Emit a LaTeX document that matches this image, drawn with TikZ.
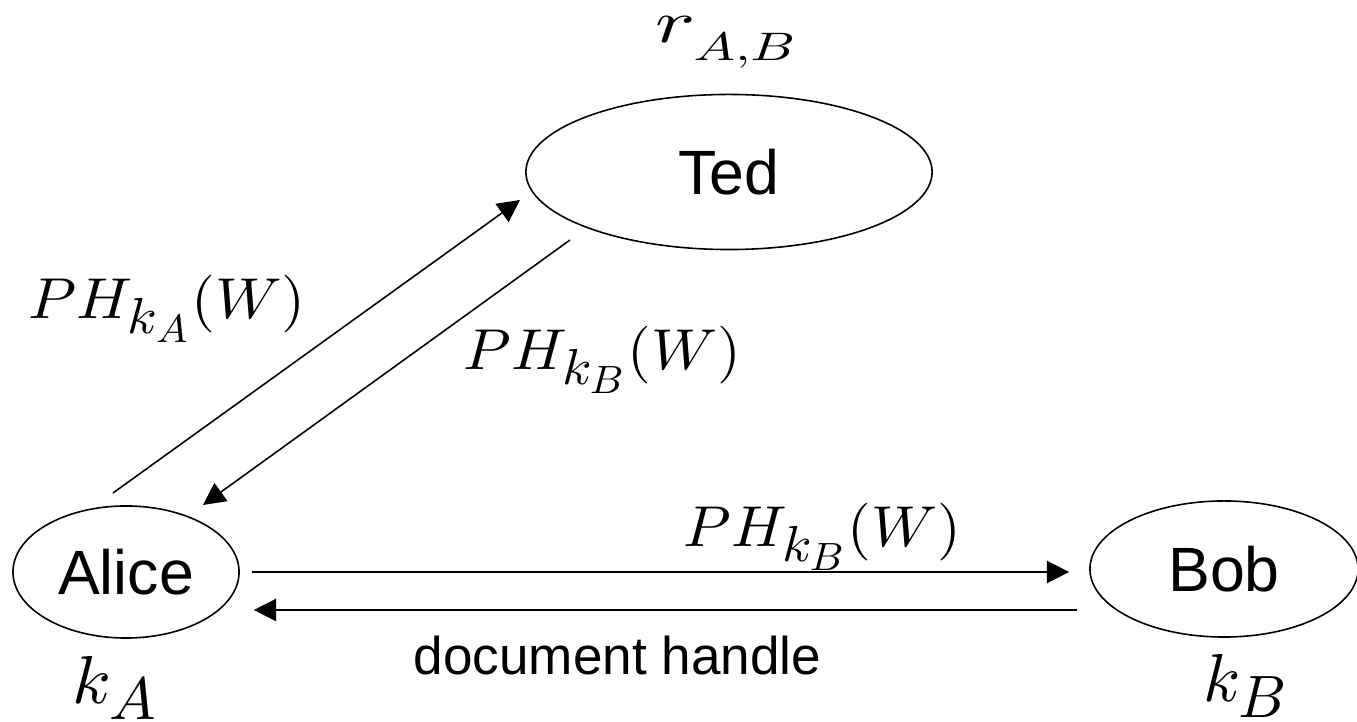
\documentclass[tikz,border=0pt]{standalone}
\usepackage{fontspec}
\usepackage{graphicx}
\setsansfont{Liberation Sans}
\usetikzlibrary{shapes.geometric,arrows.meta,calc}
\DeclareFontShape{OML}{cmm}{m}{it}{<->cmmi10}{}
\DeclareFontShape{OT1}{cmr}{m}{n}{<->cmr10}{}
\DeclareMathSizes{16.4}{16.4}{14.4}{11.2}
\DeclareMathSizes{17.1}{17.1}{11.3}{8}
\DeclareMathSizes{19.3}{19.3}{17}{12}
\newcommand{\phm}[1]{{\fontsize{16.4}{19}\selectfont\resizebox{2.77cm}{\height}{$#1$}}}
\newcommand{\rabm}[1]{{\fontsize{17.1}{20}\selectfont\resizebox{1.42cm}{\height}{$#1$}}}
\newcommand{\keym}[1]{{\fontsize{19.3}{22}\selectfont\resizebox{0.85cm}{\height}{$#1$}}}
\begin{document}
\begin{tikzpicture}[x=0.01cm,y=-0.01cm,
  party/.style={ellipse,draw,line width=0.45pt,inner sep=0pt,font=\sffamily\fontsize{17.8}{20}\selectfont},
  lbl/.style={inner sep=0pt,anchor=base west},
  txt/.style={inner sep=0pt,anchor=base west,font=\sffamily\fontsize{15.1}{18}\selectfont},
  arr/.style={line width=0.45pt,-{Triangle[length=6.3pt,width=6.3pt]}}]
\useasboundingbox (0,0) rectangle (1357,722);
% parties
\node[party,minimum width=4.06cm,minimum height=1.55cm] (ted) at (729,172) {Ted};
\node[party,minimum width=2.26cm,minimum height=1.32cm] (alice) at (126,572) {Alice};
\node[party,minimum width=2.68cm,minimum height=1.36cm] (bob) at (1224,569) {Bob};
% keys
\node[lbl] (rab) at (655,43) {\rabm{r_{\lower2.3pt\hbox{$\scriptstyle A,B$}}}};
\node[lbl] (ka) at (72,704) {\keym{k_A}};
\node[lbl] (kb) at (1203,702) {\keym{k_B}};
% connector end points
\coordinate (a1) at ($(alice.center)+(-13,-79)$);
\coordinate (t1) at ($(ted.center)+(-209,28)$);
\coordinate (t2) at ($(ted.center)+(-159,68)$);
\coordinate (a2) at ($(alice.center)+(77,-67)$);
% Alice <-> Ted
\draw[arr] (a1) -- (t1);
\draw[arr] (t2) -- (a2);
% Alice <-> Bob
\draw[arr] ($(alice.east)+(12,0)$) -- ($(bob.west)+(-20,3)$);
\draw[arr] ($(bob.west)+(-12,41)$) -- ($(alice.east)+(14,38)$);
% labels
\node[lbl] (l1) at (28,319) {\phm{PH_{k_A}(W)}};
\node[lbl] (l2) at (463,370) {\phm{PH_{k_B}(W)}};
\node[lbl] (l3) at (683,547) {\phm{PH_{k_B}(W)}};
\node[txt] (dh) at (413,675) {document handle};
\end{tikzpicture}
\end{document}
